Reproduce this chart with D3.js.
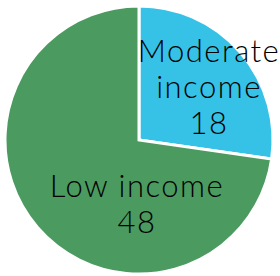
<!DOCTYPE html>
<html>
<head>
<meta charset="utf-8">
<script src="https://cdn.jsdelivr.net/npm/d3@7"></script>
<style>
  html, body { margin: 0; padding: 0; background: #fff; }
  svg { display: block; }
  text { font-family: Lato, "Open Sans", sans-serif; font-weight: 300; fill: #000; }
</style>
</head>
<body>
<svg id="chart"></svg>
<script>
// data
const categories = ["Moderate income", "Low income"];
const values = [18, 48];
const colors = ["#36c2e6", "#4b9a5f"];
// label lines per slice
const labelLines = [["Moderate", "income", "18"], ["Low income", "48"]];

const width = 280, height = 276;
const cx = 139, cy = 140, radius = 134;

const svg = d3.select("#chart")
    .attr("width", width)
    .attr("height", height);

const g = svg.append("g")
    .attr("transform", "translate(" + cx + "," + cy + ")");

const data = categories.map((c, i) => ({ category: c, value: values[i], lines: labelLines[i] }));

const pie = d3.pie()
    .value(d => d.value)
    .sort(null);

const arc = d3.arc()
    .innerRadius(0)
    .outerRadius(radius);

const arcs = pie(data);

g.selectAll("path.slice")
    .data(arcs)
    .enter().append("path")
    .attr("class", "slice")
    .attr("d", arc)
    .attr("fill", (d, i) => colors[i])
    .attr("stroke", "#fff")
    .attr("stroke-width", 3)
    .attr("stroke-linejoin", "miter");

// label anchors, relative to pie centre (hand placed like the original)
const labelAnchors = [[70, -53], [-2, 64]];
const fontSize = 31, lineH = 36;

const labels = g.selectAll("text.label")
    .data(arcs)
    .enter().append("text")
    .attr("class", "label")
    .attr("text-anchor", "middle")
    .style("font-size", fontSize + "px")
    .style("letter-spacing", "1.5px")
    .attr("transform", (d, i) => "translate(" + labelAnchors[i][0] + "," + labelAnchors[i][1] + ")");

labels.each(function (d) {
    const n = d.data.lines.length;
    const t = d3.select(this);
    d.data.lines.forEach((ln, k) => {
        t.append("tspan")
            .attr("x", 0)
            .attr("y", (k - (n - 1) / 2) * lineH + 10.8)
            .text(ln);
    });
});
</script>
</body>
</html>
